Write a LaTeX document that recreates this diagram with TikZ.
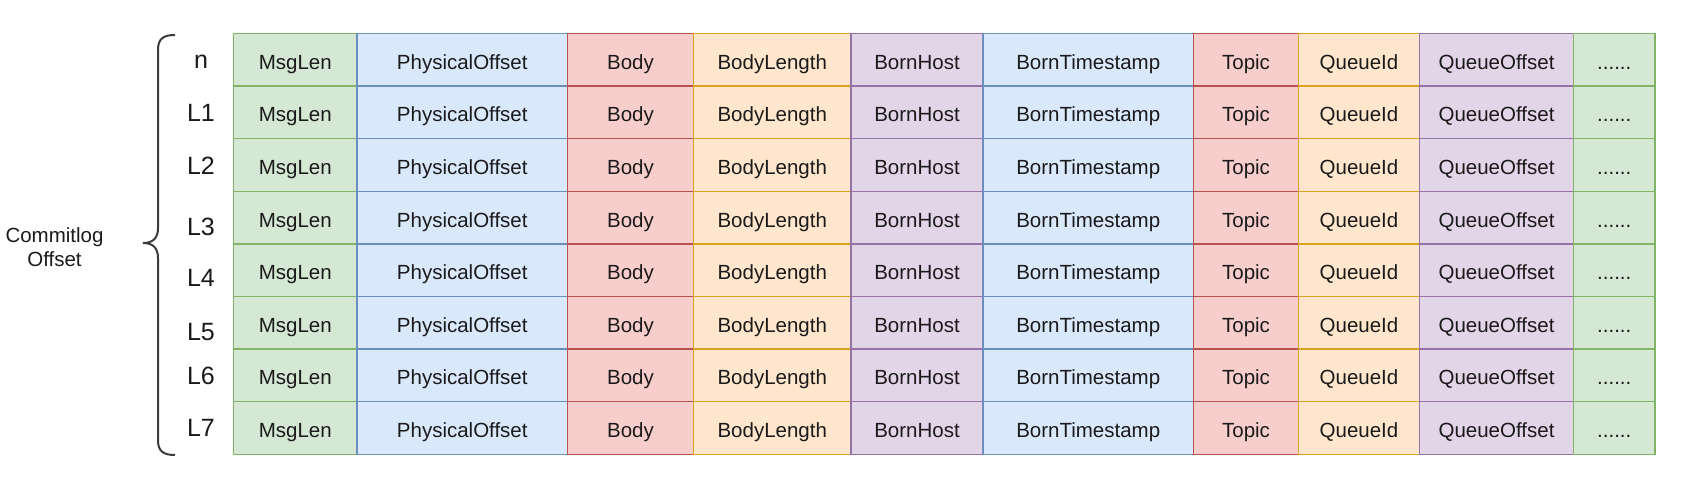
\documentclass[tikz,border=0pt]{standalone}
\usepackage{fontspec}
\setmainfont{Liberation Sans}
\usepackage{xcolor}
\definecolor{grnfill}{HTML}{D5E8D4}
\definecolor{grnline}{HTML}{82B366}
\definecolor{blufill}{HTML}{DAE8FC}
\definecolor{bluline}{HTML}{6C8EBF}
\definecolor{redfill}{HTML}{F8CECC}
\definecolor{redline}{HTML}{B85450}
\definecolor{orgfill}{HTML}{FFE6CC}
\definecolor{orgline}{HTML}{D9A520}
\definecolor{purfill}{HTML}{E1D5E7}
\definecolor{purline}{HTML}{9673A6}
\definecolor{inktext}{HTML}{1A1A1A}
\tikzset{
	cell/.style={draw,line width=1.5pt,inner sep=0pt,outer sep=0pt,
		minimum height=52.6pt,text height=19pt,text depth=0pt,
		text=inktext,font=\fontsize{20.5}{24}\selectfont},
	grn/.style={fill=grnfill,draw=grnline},
	blu/.style={fill=blufill,draw=bluline},
	red/.style={fill=redfill,draw=redline},
	org/.style={fill=orgfill,draw=orgline},
	pur/.style={fill=purfill,draw=purline},
	rowlabel/.style={text=inktext,inner sep=0pt,anchor=base,font=\fontsize{25}{28}\selectfont},
	sidelabel/.style={text=inktext,inner sep=0pt,align=center,font=\fontsize{20.5}{24}\selectfont}
}
\begin{document}
\begin{tikzpicture}[x=1pt,y=1pt]
	\useasboundingbox[fill=white] (0,0) rectangle (1694,-481);
	\foreach \L/\R/\S/\D/\T [count=\C] in {233.5/357/grn/0/MsgLen,
		357/567.5/blu/0/PhysicalOffset, 567.5/693.5/red/0/Body,
		693.5/851/org/0/BodyLength, 851/983/pur/0/BornHost,
		983/1193.5/blu/0/BornTimestamp, 1193.5/1298.5/red/0/Topic,
		1298.5/1419.5/org/3/QueueId, 1419.5/1573.5/pur/0/QueueOffset,
		1573.5/1655/grn/0/{......}}
	{
		\pgfmathsetmacro\W{\R-\L}
		\pgfmathsetmacro\M{(\L+\R)/2}
		\foreach \Q in {0,...,7}
		{\node[cell,\S,minimum width=\W pt,text height={19pt+\D pt},text depth=\D pt]
			(c\Q-\C) at (\M,{-(59.8+52.6*\Q)}) {\T};}
	}
	\foreach \Y/\N [count=\Z from 0] in {68.3/n, 121.7/L1, 174.3/L2, 235/L3,
		286.7/L4, 340/L5, 384.3/L6, 436.7/L7}
	{\node[rowlabel] (lab\Z) at (201,-\Y) {\N};}
	\coordinate (bracetop) at (175,-35);
	\coordinate (bracetip) at (143,-243);
	\coordinate (bracebot) at (175,-455);
	\draw[line width=2pt,color=inktext!85] (bracetop)
		.. controls (163,-35) and (158,-39) .. (158,-50) -- (158,-228)
		.. controls (158,-238) and (153,-243) .. (bracetip)
		.. controls (153,-243) and (158,-248) .. (158,-258) -- (158,-440)
		.. controls (158,-451) and (163,-455) .. (bracebot);
	\node[sidelabel] (commitlog) at (54.5,-247) {Commitlog\\Offset};
\end{tikzpicture}
\end{document}
